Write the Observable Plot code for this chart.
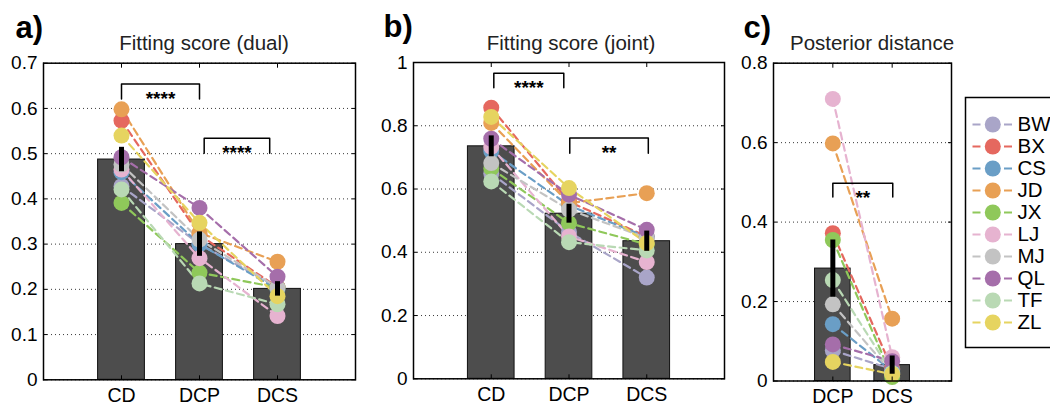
<!DOCTYPE html>
<html><head><meta charset="utf-8">
<script src="https://cdn.jsdelivr.net/npm/d3@7"></script>
<script src="https://cdn.jsdelivr.net/npm/@observablehq/plot@0.6"></script>
<style>
html,body{margin:0;padding:0;background:#fff;overflow:hidden;}
#wrap{position:relative;width:1050px;height:406px;overflow:hidden;font-family:"Liberation Sans",Arial,Helvetica,sans-serif;}
#wrap svg{position:absolute;overflow:visible;}
</style></head><body><div id="wrap"></div>
<script>
// ---------- data ----------
const subjects = ["BW","BX","CS","JD","JX","LJ","MJ","QL","TF","ZL"];
const subjectColors = ["#a9a5c8","#e5685f","#6a9ec6","#e8a055","#8fc85a","#e6b3d0","#c3c3c3","#a56eaa","#b9d9b4","#e6d460"];

const condsFit = ["CD","DCP","DCS"];
const condsDist = ["DCP","DCS"];

// a) Fitting score (dual), per subject (order of `subjects`)
const dualCD  = [0.428,0.573,0.459,0.598,0.391,0.465,0.476,0.492,0.421,0.540];
const dualDCP = [0.300,0.320,0.300,0.325,0.237,0.269,0.310,0.380,0.213,0.347];
const dualDCS = [0.205,0.205,0.200,0.261,0.204,0.141,0.204,0.228,0.167,0.185];
const dualMean = [0.487,0.300,0.201];
const dualErr  = [0.027,0.027,0.016];
const dualTicks = [0,0.1,0.2,0.3,0.4,0.5,0.6,0.7];
const dualBrFrom = [1,2.06], dualBrTo = [2,2.9], dualBrTop = [0.654,0.534], dualBrBottom = [0.621,0.501];
const dualBrLabel = ["****","****"];

// b) Fitting score (joint)
const jointCD  = [0.649,0.857,0.720,0.809,0.665,0.733,0.682,0.759,0.624,0.828];
const jointDCP = [0.464,0.560,0.548,0.555,0.492,0.450,0.535,0.582,0.432,0.603];
const jointDCS = [0.320,0.450,0.448,0.587,0.425,0.369,0.445,0.471,0.406,0.429];
const jointMean = [0.735,0.522,0.435];
const jointErr  = [0.033,0.030,0.032];
const jointTicks = [0,0.2,0.4,0.6,0.8,1];
const jointBrFrom = [1.033,2.01], jointBrTo = [1.933,3.02], jointBrTop = [0.966,0.761], jointBrBottom = [0.92,0.713];
const jointBrLabel = ["****","**"];

// c) Posterior distance
const distDCP = [0.077,0.372,0.143,0.598,0.355,0.710,0.193,0.092,0.254,0.048];
const distDCS = [0.030,0.030,0.025,0.157,0.010,0.060,0.020,0.050,0.020,0.017];
const distMean = [0.283,0.040];
const distErr  = [0.072,0.023];
const distTicks = [0,0.2,0.4,0.6,0.8];
const distBrFrom = [1], distBrTo = [2.01], distBrTop = [0.498], distBrBottom = [0.463];
const distBrLabel = ["**"];

// ---------- drawing ----------
const FONT = '"Liberation Sans", Arial, Helvetica, sans-serif';
const fmt = d => String(+d.toFixed(2));
const wrap = document.getElementById("wrap");

function panel(o) {
  const rows = [];
  o.series.forEach((arr, ci) => arr.forEach((v, si) => rows.push({subject: subjects[si], x: ci + 1, v})));
  const bars = o.conds.map((c, i) => ({x: i + 1, mean: o.means[i], err: o.errs[i]}));
  const brPts = [], brLab = [];
  o.brFrom.forEach((f, k) => {
    const t = o.brTo[k], top = o.brTop[k], bot = o.brBottom[k];
    brPts.push({k, x: f, y: bot}, {k, x: f, y: top}, {k, x: t, y: top}, {k, x: t, y: bot});
    brLab.push({x: (f + t) / 2, y: top, label: o.brLabel[k]});
  });
  const n = o.conds.length;
  const ticksX = o.conds.map((c, i) => i + 1);
  const chart = Plot.plot({
    width: o.width, height: 406,
    marginLeft: o.mL, marginRight: o.mR, marginTop: o.mT, marginBottom: o.mB,
    style: {fontFamily: FONT, fontSize: "19px", color: "black", background: "transparent"},
    x: {type: "linear", domain: [0, n + 1], axis: null},
    y: {domain: o.yDomain, axis: null},
    color: {domain: subjects, range: subjectColors},
    marks: [
      Plot.gridY(o.yTicks, {stroke: "#222", strokeOpacity: 0.9, strokeDasharray: "1,3", strokeWidth: 1}),
      Plot.rect(bars, {x1: d => d.x - 0.3, x2: d => d.x + 0.3, y1: d => 0, y2: "mean", fill: "#4d4d4d", stroke: "#111", strokeWidth: 1}),
      Plot.line(rows, {x: "x", y: "v", z: "subject", stroke: "subject", strokeWidth: 2.2, strokeDasharray: "7,4.5"}),
      Plot.dot(rows, {x: "x", y: "v", fill: "subject", r: 8}),
      Plot.ruleX(bars, {x: "x", y1: d => d.mean - d.err, y2: d => d.mean + d.err, stroke: "black", strokeWidth: 5}),
      Plot.line(brPts, {x: "x", y: "y", z: "k", stroke: "black", strokeWidth: 1.5}),
      Plot.text(brLab, {x: "x", y: "y", text: "label", lineAnchor: "top", dy: 7.5, fontSize: 19, fontWeight: "bold"}),
      Plot.frame({stroke: "black", strokeWidth: 1.5}),
      Plot.axisY({ticks: o.yTicks, tickFormat: fmt, tickSize: -4, tickPadding: 10, fontSize: 19, label: null}),
      Plot.axisY({anchor: "right", ticks: o.yTicks, tickFormat: () => "", tickSize: -4, label: null}),
      Plot.axisX({ticks: ticksX, tickFormat: i => o.conds[i - 1], tickSize: -4, tickPadding: 12, fontSize: 19.5, label: null}),
      Plot.axisX({anchor: "top", ticks: ticksX, tickFormat: () => "", tickSize: -4, label: null}),
      Plot.text([o.title], {frameAnchor: "top", dx: o.titleDx, dy: -13, lineAnchor: "bottom", fontSize: 20.5, fill: "#222"}),
      Plot.text([o.letter], {frameAnchor: "top-left", textAnchor: "start", dx: o.letterDx, dy: -25.5, lineAnchor: "bottom", fontSize: 31, fontWeight: "bold"})
    ]
  });
  chart.style.left = o.left + "px";
  chart.style.top = "0px";
  wrap.appendChild(chart);
}

panel({conds: condsFit, series: [dualCD, dualDCP, dualDCS], means: dualMean, errs: dualErr,
  yDomain: [0, 0.7], yTicks: dualTicks, brFrom: dualBrFrom, brTo: dualBrTo, brTop: dualBrTop, brBottom: dualBrBottom, brLabel: dualBrLabel,
  title: "Fitting score (dual)", letter: "a)", titleDx: 4.5, letterDx: -28,
  left: 0, width: 370, mL: 43, mR: 15, mT: 62.7, mB: 26.7});

panel({conds: condsFit, series: [jointCD, jointDCP, jointDCS], means: jointMean, errs: jointErr,
  yDomain: [0, 1], yTicks: jointTicks, brFrom: jointBrFrom, brTo: jointBrTo, brTop: jointBrTop, brBottom: jointBrBottom, brLabel: jointBrLabel,
  title: "Fitting score (joint)", letter: "b)", titleDx: 2, letterDx: -30,
  left: 370, width: 360, mL: 43, mR: 6, mT: 62, mB: 27.7});

panel({conds: condsDist, series: [distDCP, distDCS], means: distMean, errs: distErr,
  yDomain: [0, 0.8], yTicks: distTicks, brFrom: distBrFrom, brTo: distBrTo, brTop: distBrTop, brBottom: distBrBottom, brLabel: distBrLabel,
  title: "Posterior distance", letter: "c)", titleDx: 9.5, letterDx: -30,
  left: 730, width: 230, mL: 43, mR: 9, mT: 62.7, mB: 25.5});

// legend
const legend = Plot.plot({
  width: 100, height: 250, margin: 0,
  style: {fontFamily: FONT, fontSize: "20px", color: "black", background: "#fff"},
  x: {type: "linear", domain: [0, 100], range: [0, 100], axis: null},
  y: {type: "point", domain: subjects, range: [15, 236.4], axis: null},
  color: {domain: subjects, range: subjectColors},
  marks: [
    Plot.frame({stroke: "black", strokeWidth: 1.5}),
    Plot.ruleY(subjects, {y: d => d, x1: 7.5, x2: 47, stroke: d => d, strokeWidth: 2.2, strokeDasharray: "8,23.5"}),
    Plot.dot(subjects, {x: 27.3, y: d => d, r: 8, fill: d => d}),
    Plot.text(subjects, {x: 52, y: d => d, text: d => d, textAnchor: "start", fontSize: 20.5})
  ]
});
legend.style.left = "965px";
legend.style.top = "96.7px";
wrap.appendChild(legend);
</script></body></html>
